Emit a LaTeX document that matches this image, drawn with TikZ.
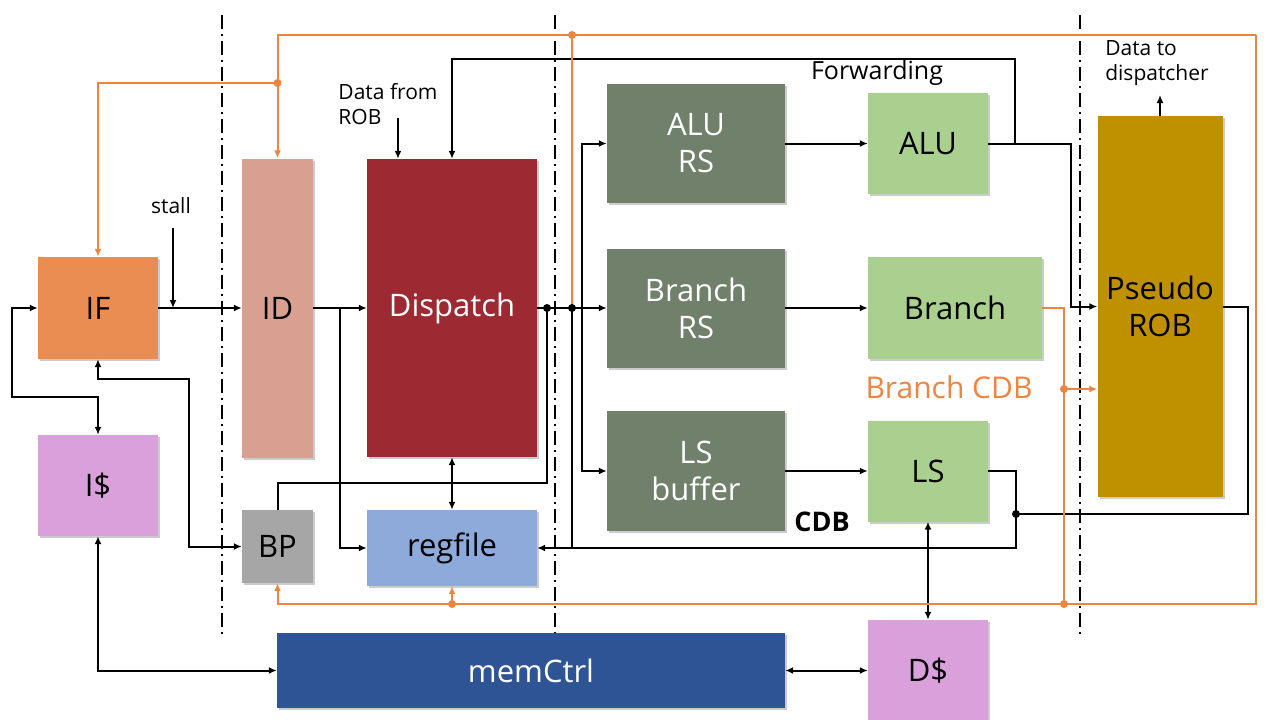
\documentclass[tikz,border=0pt]{standalone}
\usepackage{fontspec}
\setmainfont{Open Sans}
\usetikzlibrary{arrows.meta,shadows}
\definecolor{cif}{RGB}{234,141,83}
\definecolor{ccache}{RGB}{218,160,220}
\definecolor{cid}{RGB}{217,160,145}
\definecolor{cbp}{RGB}{166,166,166}
\definecolor{cdisp}{RGB}{157,41,51}
\definecolor{creg}{RGB}{142,170,219}
\definecolor{cmem}{RGB}{47,84,150}
\definecolor{crs}{RGB}{112,128,106}
\definecolor{cfu}{RGB}{169,208,142}
\definecolor{crob}{RGB}{191,144,0}
\definecolor{corg}{RGB}{234,133,66}
\begin{document}
\begin{tikzpicture}[x=1pt,y=-1pt,
  every node/.style={inner sep=0pt,align=center},
  blk/.style={minimum width=#1,font=\fontsize{31}{37}\selectfont,
    drop shadow={shadow xshift=2pt,shadow yshift=-2pt,fill=black,opacity=.2}},
  lbl/.style={font=\fontsize{21}{25}\selectfont,align=left},
  ar/.style={line width=2pt,-{Latex[length=8pt,width=7pt]}},
  arr2/.style={line width=2pt,{Latex[length=8pt,width=7pt]}-{Latex[length=8pt,width=7pt]}},
  ln/.style={line width=2pt},
  oln/.style={line width=2pt,draw=corg},
  oar/.style={oln,-{Latex[length=8pt,width=7pt]}},
  stage/.style={line width=1.8pt,dash pattern=on 14pt off 5pt on 2pt off 5pt}]
\useasboundingbox (0,0) rectangle (1280,720);

% stage separators
\foreach \sx in {222,555,1080} \draw[stage] (\sx,15) -- (\sx,636);

% blocks
\node[blk=120pt,minimum height=102pt,fill=cif] (nif) at (98,308) {IF};
\node[blk=120pt,minimum height=101pt,fill=ccache] (nic) at (98,485.5) {I\$};
\node[blk=71pt,minimum height=299pt,fill=cid] (nid) at (277.5,308) {ID};
\node[blk=71pt,minimum height=73pt,fill=cbp] (nbp) at (277.5,546.5) {BP};
\node[blk=170pt,minimum height=298pt,fill=cdisp,text=white] (ndisp) at (452,308) {Dispatch};
\node[blk=170pt,minimum height=76pt,fill=creg] (nreg) at (452,548) {regfile};
\node[blk=508pt,minimum height=75pt,fill=cmem,text=white] (nmem) at (531,670.5) {memCtrl};
\node[blk=178pt,minimum height=119pt,fill=crs,text=white] (nalurs) at (696,143.5) {ALU\\RS};
\node[blk=178pt,minimum height=119pt,fill=crs,text=white] (nbrrs) at (696,308) {Branch\\RS};
\node[blk=178pt,minimum height=120pt,fill=crs,text=white] (nlsb) at (696,471) {LS\\buffer};
\node[blk=120pt,minimum height=101pt,fill=cfu] (nalu) at (928,143.5) {ALU};
\node[blk=174pt,minimum height=102pt,fill=cfu] (nbr) at (955,308) {Branch};
\node[blk=120pt,minimum height=101pt,fill=cfu] (nls) at (928,471) {LS};
\node[blk=120pt,minimum height=101pt,fill=ccache] (ndc) at (928,670.5) {D\$};
\node[blk=125pt,minimum height=381pt,fill=crob] (nrob) at (1160,306.5) {Pseudo\\ROB};

% labels
\node[lbl] (tstall) at (171,206) {stall};
\node[lbl] (tdata) at (388,104) {Data from\\ROB};
\node[lbl] (tout) at (1157,63) {Data to\\dispatcher};
\node[font=\fontsize{25}{30}\selectfont] (tfwd) at (877,73) {Forwarding};
\node[font=\fontsize{27}{31}\selectfont\bfseries] (tcdb) at (822,522) {CDB};
\node[font=\fontsize{30}{34}\selectfont,text=corg] (tbcdb) at (949,387) {Branch CDB};

% junctions
\coordinate (cstall) at (173,228);
\coordinate (cdata) at (398,118);
\coordinate (cid) at (340,308);
\coordinate (cd1) at (547,308);
\coordinate (cd2) at (572,308);
\coordinate (cd3) at (582,308);
\coordinate (cbpj) at (547,483);
\coordinate (cifbp) at (189,379);
\coordinate (cloop) at (12,397);
\coordinate (calu) at (1015,143.5);
\coordinate (calu2) at (1071,143.5);
\coordinate (cfwd) at (452,59);
\coordinate (cls) at (1016,514);
\coordinate (ccdb) at (572,548);
\coordinate (crobj) at (1248,514);
\coordinate (crobout) at (1160,95);
\coordinate (oa) at (572,35);
\coordinate (oc) at (1256,35);
\coordinate (od) at (1256,604);
\coordinate (oe) at (1064,604);
\coordinate (of) at (452,604);
\coordinate (og) at (277.5,83);
\coordinate (oh) at (1064,389);

% front end
\draw[ar] (nif) -- (nid);
\draw[ar] (cstall) -- (cstall |- nif.east);
\draw[ar] (nid) -- (ndisp);
\draw[ar] (cid) |- (nreg);
\draw[ar] (cdata) -- (cdata |- ndisp.north);
\draw[arr2] (ndisp) -- (nreg);
\draw[arr2] (nif.west) -| (cloop) -| (nic.north);
\draw[arr2] (nif.south) |- (cifbp) |- (nbp.west);
\draw[arr2] (nic.south) |- (nmem.west);
\draw[ln] (nbp.north) |- (cbpj) -- (cd1);

% issue
\draw[ar] (ndisp) -- (nbrrs);
\draw[ar] (cd3) |- (nalurs);
\draw[ar] (cd3) |- (nlsb);
\draw[ar] (nalurs) -- (nalu);
\draw[ar] (nbrrs) -- (nbr);
\draw[ar] (nlsb) -- (nls);
\draw[arr2] (nls) -- (ndc);
\draw[arr2] (nmem) -- (ndc);

% writeback
\draw[ar] (nalu) -- (calu2) |- (nrob);
\draw[ar] (calu) |- (cfwd) -- (ndisp);
\draw[ar] (nls.east) -| (cls) |- (ccdb) -- (nreg.east);
\draw[ln] (ccdb) -- (cd2);
\draw[ln] (nrob.east) -| (crobj) -- (cls);
\draw[ar] (nrob.north) -- (crobout);

% branch misprediction
\draw[oar] (oc) -| (nid.north);
\draw[oar] (og) -| (nif.north);
\draw[oln] (oa) -- (cd2);
\draw[oar] (oc) -- (od) -| (nbp.south);
\draw[oar] (of) -- (nreg.south);
\draw[oln] (nbr.east) -| (oe);
\draw[oar] (oh) -- (oh -| nrob.west);

% dots
\foreach \c in {cd1,cd2,cls} \fill (\c) circle (4pt);
\foreach \c in {oa,og,oe,of,oh} \fill[corg] (\c) circle (4pt);
\end{tikzpicture}
\end{document}
